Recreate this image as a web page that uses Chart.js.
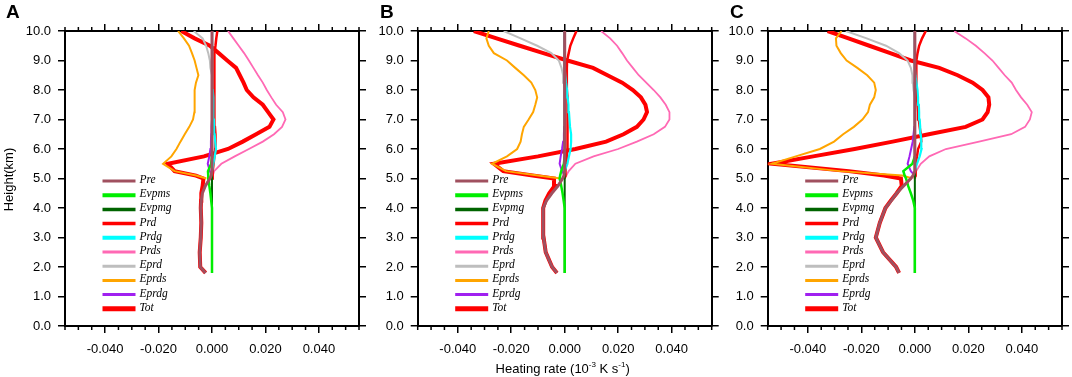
<!DOCTYPE html>
<html><head><meta charset="utf-8">
<script src="https://cdn.jsdelivr.net/npm/chart.js@4.4.1/dist/chart.umd.min.js"></script>
<style>
html,body{margin:0;padding:0;background:#fff;width:1072px;height:377px;overflow:hidden}
canvas{position:absolute;left:0;top:0}
</style></head><body>
<canvas id="cA" width="1072" height="377"></canvas>
<canvas id="cB" width="1072" height="377"></canvas>
<canvas id="cC" width="1072" height="377"></canvas>
<script>
const _ = null;
// heights (km)
const heights = [1.8, 2.0, 2.5, 3.0, 3.5, 4.0, 4.25, 4.5, 4.75, 5.0, 5.1, 5.25, 5.5, 5.75, 6.0, 6.25, 6.5, 6.75, 7.0, 7.25, 7.5, 7.75, 8.0, 8.25, 8.5, 8.75, 9.0, 9.25, 9.5, 9.75, 10.0];
const xTickValues = [-0.04, -0.02, 0, 0.02, 0.04];
const yTickValues = [0,1,2,3,4,5,6,7,8,9,10];
const seriesNames = ['Pre','Evpms','Evpmg','Prd','Prdg','Prds','Eprd','Eprds','Eprdg','Tot'];
const panelLetters = ['A','B','C'];
const xTitle = ['Heating rate (10', '-3', ' K s', '-1', ')'];
const yTitle = 'Height(km)';

// ---- Panel A ----
const preA   = [-0.0024,-0.0044,-0.0046,-0.0042,-0.0040,-0.0042,-0.0040,-0.0036,-0.0025,-0.0008,-0.0003,0,0,0,0,0,0,0,0,0,0,0,0,0,0,0,0,0,0,0,0];
const evpmsA = [0,0,0,0,0,0,-0.0003,-0.0006,-0.0010,-0.0013,-0.0014,-0.0015,-0.0003,0,_,_,_,_,_,_,_,_,_,_,_,_,_,_,_,_,_];
const evpmgA = [0,0,0,0,0,0,0,0,0,0,0,0,0,0,0,0,0,0,0,0,0,0,0,0,0,0,0,0,0,0,0];
const prdA   = [_,_,_,_,_,_,_,_,_,0,0.0002,0.0003,0.0006,0.0009,0.0012,0.0013,0.0013,0.0011,0.0010,0.0009,0.0009,0.0009,0.0009,0.0009,0.0009,0.0008,0.0008,0.0010,0.0013,0.0016,0.0020];
const prdgA  = [_,_,_,_,_,_,_,_,_,_,_,0,0.0005,0.0010,0.0015,0.0012,0.0010,0.0008,0.0007,0.0006,0.0005,0.0004,0.0003,0.0002,0.0001,0,0,0,0,0,0];
const prdsA  = [_,_,_,_,_,_,_,_,_,0,0.0003,0.0008,0.0035,0.0085,0.0138,0.0190,0.0232,0.0262,0.0275,0.0265,0.0240,0.0222,0.0205,0.0190,0.0172,0.0155,0.0138,0.0120,0.0100,0.0080,0.0060];
const eprdA  = [_,_,_,_,_,_,_,_,_,0,0,0,0,0,0,0,0,0,0,0,0,0,0,0,0,-0.0006,-0.0008,-0.0014,-0.0022,-0.0035,-0.0068];
const eprdsA = [_,_,_,_,_,_,_,_,_,-0.0021,-0.0059,-0.0140,-0.0183,-0.0152,-0.0133,-0.0118,-0.0102,-0.0085,-0.0071,-0.0066,-0.0065,-0.0065,-0.0065,-0.0060,-0.0051,-0.0058,-0.0065,-0.0075,-0.0086,-0.0105,-0.0127];
const eprdgA = [_,_,_,_,_,_,_,_,_,_,0,-0.0008,-0.0016,-0.0010,-0.0006,-0.0004,-0.0003,-0.0002,0,0,0,0,0,0,0,0,0,0,0,0,0];
const totA   = [-0.0024,-0.0044,-0.0046,-0.0042,-0.0040,-0.0042,-0.0041,-0.0040,-0.0035,-0.0032,-0.0060,-0.0140,-0.0165,-0.0030,0.0060,0.0115,0.0165,0.0215,0.0230,0.0210,0.0190,0.0155,0.0130,0.0118,0.0104,0.0090,0.0057,0.0025,-0.0008,-0.0065,-0.0115];

// ---- Panel B ----
const preB   = [-0.0029,-0.0047,-0.0071,-0.0079,-0.0081,-0.0080,-0.0068,-0.0048,-0.0025,-0.0008,-0.0003,0,0,0,0,0,0,0,0,0,0,0,0,0,0,0,0,0,0,0,0];
const evpmsB = [0,0,0,0,0,0,-0.0004,-0.0008,-0.0013,-0.0019,-0.0017,-0.0013,-0.0003,0,_,_,_,_,_,_,_,_,_,_,_,_,_,_,_,_,_];
const evpmgB = [0,0,0,0,0,0,0,0,0,0,0,0,0,0,0,0,0,0,0,0,0,0,0,0,0,0,0,0,0,0,0];
const prdB   = [_,_,_,_,_,_,_,_,_,0,0.0002,0.0003,0.0005,0.0008,0.0010,0.0012,0.0012,0.0011,0.0010,0.0010,0.0009,0.0009,0.0008,0.0008,0.0008,0.0008,0.0009,0.0015,0.0021,0.0032,0.0044];
const prdgB  = [_,_,_,_,_,_,_,_,_,_,_,0,0.0010,0.0016,0.0022,0.0024,0.0024,0.0020,0.0018,0.0016,0.0014,0.0011,0.0009,0.0005,0.0002,0,0,0,0,0,0];
const prdsB  = [_,_,_,_,_,_,_,_,_,0,0.0006,0.0015,0.0040,0.0108,0.0200,0.0270,0.0333,0.0375,0.0392,0.0392,0.0378,0.0358,0.0333,0.0305,0.0277,0.0255,0.0233,0.0215,0.0196,0.0170,0.0136];
const eprdB  = [_,_,_,_,_,_,_,_,_,0,0,0,0,0,0,0,0,0,0,0,0,0,0,-0.0003,-0.0006,-0.0012,-0.0022,-0.0050,-0.0103,-0.0165,-0.0228];
const eprdsB = [_,_,_,_,_,_,_,_,_,-0.0015,-0.0100,-0.0220,-0.0272,-0.0216,-0.0178,-0.0165,-0.0160,-0.0153,-0.0135,-0.0118,-0.0110,-0.0103,-0.0110,-0.0125,-0.0153,-0.0185,-0.0216,-0.0265,-0.0284,-0.0293,-0.0284];
const eprdgB = [_,_,_,_,_,_,_,_,_,_,0,-0.0010,-0.0019,-0.0015,-0.0010,-0.0006,-0.0003,-0.0002,0,0,0,0,0,0,0,0,0,0,0,0,0];
const totB   = [-0.0029,-0.0047,-0.0071,-0.0079,-0.0081,-0.0080,-0.0072,-0.0058,-0.0038,-0.0040,-0.0120,-0.0230,-0.0265,-0.0100,0.0040,0.0155,0.0220,0.0270,0.0295,0.0308,0.0302,0.0285,0.0255,0.0215,0.0160,0.0106,0.0010,-0.0080,-0.0168,-0.0255,-0.0340];

// ---- Panel C ----
const preC   = [-0.0059,-0.0070,-0.0119,-0.0146,-0.0131,-0.0110,-0.0088,-0.0068,-0.0042,-0.0015,-0.0007,0,0,0,0,0,0,0,0,0,0,0,0,0,0,0,0,0,0,0,0];
const evpmsC = [0,0,0,0,0,0,-0.0006,-0.0015,-0.0025,-0.0033,-0.0038,-0.0043,-0.0009,0,_,_,_,_,_,_,_,_,_,_,_,_,_,_,_,_,_];
const evpmgC = [0,0,0,0,0,0,0,0,0,0,0,0,0,0,0,0,0,0,0,0,0,0,0,0,0,0,0,0,0,0,0];
const prdC   = [_,_,_,_,_,_,_,_,_,0,0.0001,0.0002,0.0004,0.0008,0.0012,0.0024,0.0022,0.0018,0.0015,0.0012,0.0010,0.0008,0.0006,0.0005,0.0005,0.0005,0.0007,0.0010,0.0016,0.0027,0.0041];
const prdgC  = [_,_,_,_,_,_,_,_,_,_,_,0,0.0008,0.0018,0.0025,0.0024,0.0022,0.0020,0.0018,0.0016,0.0015,0.0012,0.0010,0.0006,0.0002,0,0,0,0,0,0];
const prdsC  = [_,_,_,_,_,_,_,_,_,0,0.0002,0.0005,0.0022,0.0054,0.0116,0.0240,0.0360,0.0412,0.0430,0.0437,0.0420,0.0397,0.0378,0.0362,0.0336,0.0313,0.0290,0.0260,0.0228,0.0190,0.0147];
const eprdC  = [_,_,_,_,_,_,_,_,_,0,0,0,0,0,0,0,0,0,0,0,0,-0.0003,-0.0005,-0.0007,-0.0009,-0.0015,-0.0027,-0.0059,-0.0108,-0.0180,-0.0258];
const eprdsC = [_,_,_,_,_,_,_,_,_,-0.0010,-0.0046,-0.0280,-0.0535,-0.0445,-0.0355,-0.0302,-0.0268,-0.0228,-0.0196,-0.0175,-0.0168,-0.0152,-0.0146,-0.0152,-0.0178,-0.0215,-0.0255,-0.0277,-0.0293,-0.0295,-0.0274];
const eprdgC = [_,_,_,_,_,_,_,_,_,_,0,-0.0015,-0.0027,-0.0020,-0.0014,-0.0008,-0.0005,-0.0002,0,0,0,0,0,0,0,0,0,0,0,0,0];
const totC   = [-0.0059,-0.0070,-0.0119,-0.0146,-0.0131,-0.0110,-0.0090,-0.0068,-0.0049,-0.0052,-0.0115,-0.0247,-0.0535,-0.0380,-0.0225,-0.0083,0.0052,0.0190,0.0253,0.0272,0.0278,0.0275,0.0253,0.0216,0.0160,0.0091,-0.0015,-0.0092,-0.0170,-0.0248,-0.0326];

const panels = [
  {Pre:preA,Evpms:evpmsA,Evpmg:evpmgA,Prd:prdA,Prdg:prdgA,Prds:prdsA,Eprd:eprdA,Eprds:eprdsA,Eprdg:eprdgA,Tot:totA},
  {Pre:preB,Evpms:evpmsB,Evpmg:evpmgB,Prd:prdB,Prdg:prdgB,Prds:prdsB,Eprd:eprdB,Eprds:eprdsB,Eprdg:eprdgB,Tot:totB},
  {Pre:preC,Evpms:evpmsC,Evpmg:evpmgC,Prd:prdC,Prdg:prdgC,Prds:prdsC,Eprd:eprdC,Eprds:eprdsC,Eprdg:eprdgC,Tot:totC}
];

// ---- styles ----
const colors = {Pre:'#a0505f',Evpms:'#00ee00',Evpmg:'#006400',Prd:'#ff0000',Prdg:'#00ffff',Prds:'#ff69b4',Eprd:'#bebebe',Eprds:'#ffa500',Eprdg:'#a020f0',Tot:'#ff0000'};
const lineW  = {Pre:3,Evpms:2.5,Evpmg:2,Prd:2.5,Prdg:2.2,Prds:1.8,Eprd:2,Eprds:2,Eprdg:2,Tot:4};
const legW   = {Pre:3,Evpms:4,Evpmg:3.5,Prd:3.5,Prdg:4,Prds:3,Eprd:3,Eprds:3,Eprdg:3,Tot:5};
const drawOrder = ['Pre','Evpms','Evpmg','Eprdg','Prdg','Prd','Eprds','Eprd','Prds','Tot']; // first = on top
const boxes = [{L:65,R:359},{L:417.7,R:711.7},{L:767.7,R:1062}];
const TOP = 31, BOT = 326, YW = 60, XH = 45;
const SANS = "'Liberation Sans', Arial, Helvetica, sans-serif";

function makeChart(id, pi) {
  const p = panels[pi], box = boxes[pi];
  const datasets = drawOrder.map(name => ({
    label: name,
    data: heights.map((h,i)=> p[name][i]===null ? null : {x:p[name][i], y:h}).filter(v=>v!==null),
    borderColor: colors[name],
    backgroundColor: colors[name],
    borderWidth: lineW[name],
    showLine: true, pointRadius: 0, tension: 0, fill: false
  }));
  const zeroFit = s => { if (s.isHorizontal()) s.height = 0; else s.width = 0; };
  const axisGrid = {drawOnChartArea:false, drawTicks:true, tickLength:7, tickWidth:1.5, tickColor:'#000', color:'#000', lineWidth:1.5};
  const axisBorder = {display:true, color:'#000', width:2};
  const decor = {
    id: 'decor',
    afterDraw(chart) {
      const ctx = chart.ctx, ca = chart.chartArea, xs = chart.scales.x;
      ctx.save();
      // minor x ticks
      ctx.strokeStyle = '#000'; ctx.lineWidth = 1.5;
      for (let k = -11; k <= 11; k++) {
        if (k % 4 === 0) continue;
        const px = xs.getPixelForValue(k*0.005);
        ctx.beginPath(); ctx.moveTo(px, ca.bottom); ctx.lineTo(px, ca.bottom+4); ctx.stroke();
        ctx.beginPath(); ctx.moveTo(px, ca.top); ctx.lineTo(px, ca.top-4); ctx.stroke();
      }
      // legend
      const lx = ca.left + 37.5, ly = ca.top + 150, dy = 14.2;
      ctx.font = "italic 11.5px 'Liberation Serif', 'Times New Roman', serif";
      ctx.textBaseline = 'middle'; ctx.textAlign = 'left';
      seriesNames.forEach((n, i) => {
        const y = ly + i*dy;
        ctx.strokeStyle = colors[n]; ctx.lineWidth = legW[n]; ctx.lineCap = 'butt';
        ctx.beginPath(); ctx.moveTo(lx, y); ctx.lineTo(lx+33, y); ctx.stroke();
        ctx.fillStyle = '#000';
        ctx.fillText(n, lx+37, y-1);
      });
      // panel letter
      ctx.font = "bold 19px " + SANS; ctx.textBaseline = 'alphabetic'; ctx.fillStyle = '#000';
      ctx.fillText(panelLetters[pi], ca.left - (pi===0 ? 59 : 37.7), 17.5);
      if (pi === 0) {
        ctx.save();
        ctx.translate(12.6, 179.5);
        ctx.rotate(-Math.PI/2);
        ctx.font = "13px " + SANS; ctx.textAlign = 'center';
        ctx.fillText(yTitle, 0, 0);
        ctx.restore();
      }
      if (pi === 1) {
        const big = "13px " + SANS, small = "8px " + SANS;
        const parts = xTitle.map((t, j) => ({t, sup: j % 2 === 1}));
        let total = 0;
        parts.forEach(pt => { ctx.font = pt.sup ? small : big; pt.w = ctx.measureText(pt.t).width; total += pt.w; });
        let x = (ca.left + ca.right)/2 - total/2 - 2;
        const base = 373;
        ctx.textAlign = 'left';
        parts.forEach(pt => { ctx.font = pt.sup ? small : big; ctx.fillText(pt.t, x, pt.sup ? base-6 : base); x += pt.w; });
      }
      ctx.restore();
    }
  };
  return new Chart(document.getElementById(id), {
    type: 'scatter',
    data: {datasets},
    options: {
      responsive: false, animation: false, devicePixelRatio: 1,
      layout: {padding: {left: box.L - YW, right: 1072 - box.R, top: TOP, bottom: 377 - BOT - XH}},
      plugins: {legend: {display:false}, tooltip: {enabled:false}},
      scales: {
        x: {type:'linear', position:'bottom', min:-0.055, max:0.055, afterFit: s => { s.height = XH; },
            afterBuildTicks: s => { s.ticks = xTickValues.map(v => ({value:v})); },
            ticks: {callback: v => v.toFixed(3), color:'#000', font:{family:SANS, size:13}, padding:9, maxRotation:0, autoSkip:false},
            grid: axisGrid, border: axisBorder},
        xTop: {type:'linear', position:'top', min:-0.055, max:0.055, afterFit: zeroFit,
            afterBuildTicks: s => { s.ticks = xTickValues.map(v => ({value:v})); },
            ticks: {display:false}, grid: axisGrid, border: axisBorder},
        y: {type:'linear', position:'left', min:0, max:10, afterFit: s => { s.width = YW; },
            afterBuildTicks: s => { s.ticks = yTickValues.map(v => ({value:v})); },
            ticks: {callback: v => v.toFixed(1), color:'#000', font:{family:SANS, size:13}, padding:7, autoSkip:false},
            grid: axisGrid, border: axisBorder},
        yRight: {type:'linear', position:'right', min:0, max:10, afterFit: zeroFit,
            afterBuildTicks: s => { s.ticks = yTickValues.map(v => ({value:v})); },
            ticks: {display:false}, grid: axisGrid, border: axisBorder}
      }
    },
    plugins: [decor]
  });
}
makeChart('cA', 0);
makeChart('cB', 1);
makeChart('cC', 2);
</script>
</body></html>
